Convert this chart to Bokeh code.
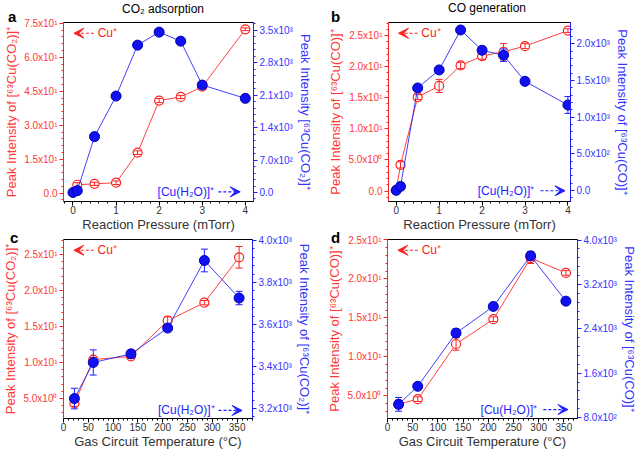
import numpy as np
from bokeh.plotting import figure
from bokeh.models import (Range1d, LinearAxis, FixedTicker, Label, Arrow, VeeHead, Div)
from bokeh.layouts import column, row
from bokeh.embed import file_html
from bokeh.resources import INLINE

# ---------------- data ----------------
# panel a : CO2 adsorption vs reaction pressure
a_x_red = [0.1, 0.5, 1.0, 1.5, 2.0, 2.5, 3.0, 4.0]
a_red = [3.7, 4.1, 4.6, 17.9, 40.9, 42.5, 47.0, 72.4]
a_red_err = [0.9, 0.7, 0.8, 0.8, 0.9, 0.7, 0.6, 0.6]
a_x_blue = [0.0, 0.1, 0.5, 1.0, 1.5, 2.0, 2.5, 3.0, 4.0]
a_blue = [0, 40, 1205, 2080, 3178, 3458, 3264, 2317, 2030]
a_blue_err = [15, 15, 30, 30, 30, 30, 40, 30, 30]

# panel b : CO generation vs reaction pressure
b_x_red = [0.0, 0.1, 0.5, 1.0, 1.5, 2.0, 2.5, 3.0, 4.0]
b_red = [0.2, 4.2, 15.1, 16.9, 20.2, 21.7, 22.4, 23.3, 25.8]
b_red_err = [0.2, 0.5, 0.4, 1.05, 0.5, 0.5, 1.3, 0.4, 0.3]
b_x_blue = [0.0, 0.1, 0.5, 1.0, 1.5, 2.0, 2.5, 3.0, 4.0]
b_blue = [0, 54, 1397, 1643, 2188, 1911, 1844, 1487, 1165]
b_blue_err = [15, 20, 40, 25, 35, 50, 85, 30, 115]

# panel c : CO2 adsorption vs gas circuit temperature
c_x = [22, 60, 136, 210, 284, 354]
c_red = [4.3, 10.4, 10.85, 15.8, 18.3, 24.6]
c_red_err = [0.4, 0.3, 0.3, 0.55, 0.3, 1.5]
c_blue = [3247, 3419, 3460, 3583, 3905, 3726]
c_blue_err = [49, 60, 18, 10, 54, 32]

# panel d : CO generation vs gas circuit temperature
d_x = [22, 60, 136, 210, 284, 354]
d_red = [3.94, 4.58, 11.65, 14.83, 22.67, 20.76]
d_red_err = [0.5, 0.3, 0.8, 0.3, 0.7, 0.3]
d_blue = [1037, 1363, 2323, 2803, 3716, 2898]
d_blue_err = [124, 40, 75, 30, 75, 40]

# ticks and tick labels
press_ticks = [0, 1, 2, 3, 4]
temp_ticks = [0, 50, 100, 150, 200, 250, 300, 350]
a_left_ticks = [0, 15, 30, 45, 60, 75]
a_left_labels = ["0.0", "1.5x10¹", "3.0x10¹", "4.5x10¹", "6.0x10¹", "7.5x10¹"]
a_right_ticks = [0, 700, 1400, 2100, 2800, 3500]
a_right_labels = ["0.0", "7.0x10²", "1.4x10³", "2.1x10³", "2.8x10³", "3.5x10³"]
b_left_ticks = [0, 5, 10, 15, 20, 25]
b_left_labels = ["0.0", "5.0x10⁰", "1.0x10¹", "1.5x10¹", "2.0x10¹", "2.5x10¹"]
b_right_ticks = [0, 500, 1000, 1500, 2000]
b_right_labels = ["0.0", "5.0x10²", "1.0x10³", "1.5x10³", "2.0x10³"]
c_left_ticks = [5, 10, 15, 20, 25]
c_left_labels = ["5.0x10⁰", "1.0x10¹", "1.5x10¹", "2.0x10¹", "2.5x10¹"]
c_right_ticks = [3200, 3400, 3600, 3800, 4000]
c_right_labels = ["3.2x10³", "3.4x10³", "3.6x10³", "3.8x10³", "4.0x10³"]
d_left_ticks = [5, 10, 15, 20, 25]
d_left_labels = ["5.0x10⁰", "1.0x10¹", "1.5x10¹", "2.0x10¹", "2.5x10¹"]
d_right_ticks = [800, 1600, 2400, 3200, 4000]
d_right_labels = ["8.0x10²", "1.6x10³", "2.4x10³", "3.2x10³", "4.0x10³"]

panel_letters = ["a", "b", "c", "d"]
panel_titles = ["CO₂ adsorption", "CO generation"]

RED = "#FF2020"
RED_TXT = "#FF3838"
BLUE = "#1E1EFF"
BLUE_TXT = "#3434FF"
DARK = "#333333"
FONT = "Liberation Sans"


def minors(ticks, lo, hi, n=5):
    step = (ticks[1] - ticks[0]) / n
    start = ticks[0] - step * np.floor((ticks[0] - lo) / step)
    return [float(v) for v in np.arange(start, hi + 1e-9, step)]


def style_axis(ax, line_color, text_color):
    ax.axis_line_color = line_color
    ax.major_tick_line_color = line_color
    ax.minor_tick_line_color = line_color
    ax.major_tick_in = 0
    ax.major_tick_out = 4
    ax.minor_tick_in = 0
    ax.minor_tick_out = 2
    ax.major_label_text_color = text_color
    ax.major_label_text_font = FONT
    ax.major_label_text_font_size = "10px"
    ax.axis_label_text_font = FONT
    ax.axis_label_text_font_size = "13px"
    ax.axis_label_text_font_style = "normal"
    ax.axis_label_text_color = text_color
    ax.major_label_standoff = 2
    ax.axis_label_standoff = 2


def errbars(p, x, y, e, color, yname="default", cap=7):
    lo = [v - d for v, d in zip(y, e)]
    hi = [v + d for v, d in zip(y, e)]
    p.segment(x0=x, y0=lo, x1=x, y1=hi, line_color=color, line_width=1, y_range_name=yname)
    p.scatter(x=x + x, y=lo + hi, marker="dash", size=cap, line_color=color,
              line_width=1, y_range_name=yname)


def make_panel(P):
    p = figure(width=P["w"], height=P["h"], output_backend="svg", toolbar_location=None,
               x_range=Range1d(*P["xr"]), y_range=Range1d(*P["ylr"]),
               min_border_left=P["b"][0], min_border_right=P["b"][1],
               min_border_top=P["b"][2], min_border_bottom=P["b"][3])
    p.extra_y_ranges = {"r": Range1d(*P["yrr"])}
    p.grid.visible = False
    p.outline_line_color = "black"
    p.outline_line_width = 1
    p.border_fill_color = None

    # axes
    xa = p.xaxis[0]
    xa.ticker = FixedTicker(ticks=P["xt"], minor_ticks=minors(P["xt"], *P["xr"]))
    xa.axis_label = P["xlabel"]
    style_axis(xa, "black", DARK)
    xa.major_label_standoff = 0
    xa.axis_label_standoff = 0

    ya = p.yaxis[0]
    ya.ticker = FixedTicker(ticks=P["ylt"], minor_ticks=minors(P["ylt"], *P["ylr"]))
    ya.major_label_overrides = {float(t): s for t, s in zip(P["ylt"], P["yll"])}
    ya.axis_label = P["yl_label"]
    style_axis(ya, RED, RED_TXT)

    ra = LinearAxis(y_range_name="r",
                    ticker=FixedTicker(ticks=P["yrt"], minor_ticks=minors(P["yrt"], *P["yrr"])))
    ra.major_label_overrides = {float(t): s for t, s in zip(P["yrt"], P["yrl"])}
    ra.axis_label = P["yr_label"]
    style_axis(ra, BLUE, BLUE_TXT)
    p.add_layout(ra, "right")

    # red series (left axis)
    p.line(P["xr_red"], P["red"], line_color=RED, line_width=1, line_alpha=0.85)
    p.scatter(P["xr_red"], P["red"], marker="circle", size=9, fill_color="white",
              line_color=RED, line_width=1.2)
    errbars(p, P["xr_red"], P["red"], P["red_err"], RED)

    # blue series (right axis)
    p.line(P["xr_blue"], P["blue"], line_color=BLUE, line_width=1, line_alpha=0.85, y_range_name="r")
    errbars(p, P["xr_blue"], P["blue"], P["blue_err"], BLUE, "r")
    p.scatter(P["xr_blue"], P["blue"], marker="circle", size=10, fill_color="#1010F0",
              line_color="#0000B0", line_width=1, y_range_name="r")

    x0, x1 = P["xr"]
    y0, y1 = P["ylr"]
    fx = lambda f: x0 + f * (x1 - x0)
    fy = lambda f: y0 + f * (y1 - y0)

    # red legend arrow (top-left)
    yt = fy(0.94)
    p.add_layout(Arrow(x_start=fx(0.16), y_start=yt, x_end=fx(0.055), y_end=yt,
                       line_color=RED, line_width=1.2, line_dash="3 2",
                       end=VeeHead(size=10, fill_color=RED, line_color=RED)))
    p.add_layout(Label(x=fx(0.18), y=yt, text="Cu⁺", text_color=RED, text_font=FONT,
                       text_font_size="12px", text_baseline="middle", text_align="left"))

    # blue legend arrow (bottom-right)
    ba = P["blue_ann"]
    yb = fy(ba[3])
    p.add_layout(Label(x=fx(ba[0]), y=yb, text="[Cu(H₂O)]⁺", text_color=BLUE, text_font=FONT,
                       text_font_size="12px", text_baseline="middle", text_align="left"))
    p.add_layout(Arrow(x_start=fx(ba[1]), y_start=yb, x_end=fx(ba[2]), y_end=yb,
                       line_color=BLUE, line_width=1.2, line_dash="3 2",
                       end=VeeHead(size=10, fill_color=BLUE, line_color=BLUE)))
    return p


H_TOP, H_BOT = 234, 217

pa = make_panel(dict(w=320, h=H_TOP, b=(63, 67, 22, 32), xr=(-0.22, 4.19), ylr=(-3.7, 75.4),
                     yrr=(-194, 3666), xt=press_ticks, ylt=a_left_ticks, yll=a_left_labels,
                     yrt=a_right_ticks, yrl=a_right_labels,
                     xlabel="Reaction Pressure (mTorr)",
                     yl_label="Peak Intensity of [⁶³Cu(CO₂)]⁺",
                     yr_label="Peak Intensity [⁶³Cu(CO₂)]⁺",
                     xr_red=a_x_red, red=a_red, red_err=a_red_err,
                     xr_blue=a_x_blue, blue=a_blue, blue_err=a_blue_err,
                     blue_ann=(0.495, 0.815, 0.93, 0.054)))

pb = make_panel(dict(w=320, h=H_TOP, b=(68, 70, 22, 32), xr=(-0.18, 4.06), ylr=(-1.68, 27.1),
                     yrr=(-152, 2290), xt=press_ticks, ylt=b_left_ticks, yll=b_left_labels,
                     yrt=b_right_ticks, yrl=b_right_labels,
                     xlabel="Reaction Pressure (mTorr)",
                     yl_label="Peak Intensity of [⁶³Cu(CO)]⁺",
                     yr_label="Peak Intensity of [⁶³Cu(CO)]⁺",
                     xr_red=b_x_red, red=b_red, red_err=b_red_err,
                     xr_blue=b_x_blue, blue=b_blue, blue_err=b_blue_err,
                     blue_ann=(0.49, 0.835, 0.97, 0.06)))

pc = make_panel(dict(w=320, h=H_BOT, b=(63, 68, 5, 33), xr=(0, 381), ylr=(2.22, 27.07),
                     yrr=(3152, 4005), xt=temp_ticks, ylt=c_left_ticks, yll=c_left_labels,
                     yrt=c_right_ticks, yrl=c_right_labels,
                     xlabel="Gas Circuit Temperature (°C)",
                     yl_label="Peak Intensity of [⁶³Cu(CO₂)]⁺",
                     yr_label="Peak Intensity of [⁶³Cu(CO₂)]⁺",
                     xr_red=c_x, red=c_red, red_err=c_red_err,
                     xr_blue=c_x, blue=c_blue, blue_err=c_blue_err,
                     blue_ann=(0.50, 0.82, 0.945, 0.045)))

pd_ = make_panel(dict(w=320, h=H_BOT, b=(67, 63, 5, 33), xr=(0, 377), ylr=(2.1, 25.05),
                      yrr=(782, 4010), xt=temp_ticks, ylt=d_left_ticks, yll=d_left_labels,
                      yrt=d_right_ticks, yrl=d_right_labels,
                      xlabel="Gas Circuit Temperature (°C)",
                      yl_label="Peak Intensity of [⁶³Cu(CO)]⁺",
                      yr_label="Peak Intensity of [⁶³Cu(CO)]⁺",
                      xr_red=d_x, red=d_red, red_err=d_red_err,
                      xr_blue=d_x, blue=d_blue, blue_err=d_blue_err,
                      blue_ann=(0.49, 0.82, 0.95, 0.05)))

# panel letters and headings, overlaid as HTML text (annotations in the plot
# centre are clipped to the frame, so they are placed in an overlay instead)
DIV_Y = H_TOP + H_BOT
OFF_X, OFF_Y = -4, -18   # measured offset of the overlay's origin


def span(txt, left, top, size, weight="normal", width=None, align="left"):
    w = f"width:{width}px;" if width else ""
    return (f'<span style="position:absolute;left:{left + OFF_X}px;top:{top - DIV_Y + OFF_Y}px;{w}'
            f'text-align:{align};white-space:nowrap;font-family:\'{FONT}\',sans-serif;'
            f'font-size:{size}px;line-height:{size}px;font-weight:{weight};color:#000;">'
            f'{txt}</span>')


letter_pos = [(7, 10), (330, 10), (9, 231), (330, 231)]
title_pos = [(62, 4), (386, 3)]
spans = [span(t, l, tp, 15, "bold") for t, (l, tp) in zip(panel_letters, letter_pos)]
spans += [span(t, l, tp, 12, "normal", 200, "center") for t, (l, tp) in zip(panel_titles, title_pos)]
overlay = Div(text='<div style="position:relative;width:640px;height:0px;overflow:visible;">'
                   + "".join(spans) + "</div>",
              width=640, height=5, styles={"overflow": "visible"})

layout = column(row(pa, pb), row(pc, pd_), overlay)
open("out.html", "w").write(file_html(layout, INLINE))
